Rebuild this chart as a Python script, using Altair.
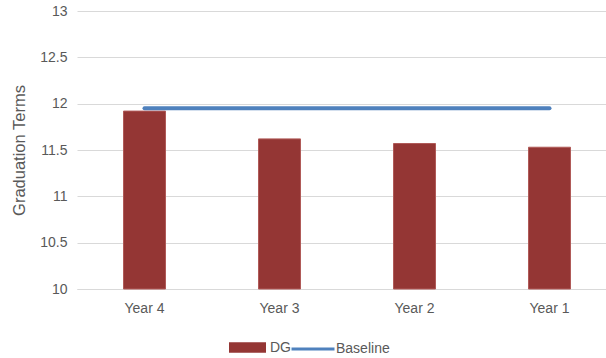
import altair as alt
import pandas as pd

years = ["Year 4", "Year 3", "Year 2", "Year 1"]
dg = [11.92, 11.62, 11.57, 11.53]
baseline = [11.95, 11.95, 11.95, 11.95]
y_ticks = [10, 10.5, 11, 11.5, 12, 12.5, 13]
y_min, y_max = 10, 13

df = pd.DataFrame({"Year": years, "DG": dg, "Baseline": baseline,
                   "s1": ["DG"] * 4, "s2": ["Baseline"] * 4})

FONT = "Liberation Sans"
GREY = "#595959"

x = alt.X("Year:N", sort=years,
          scale=alt.Scale(paddingInner=0, paddingOuter=0, range=[0, 540]),
          axis=alt.Axis(title=None, labelAngle=0, ticks=False, domain=True, grid=False,
                        domainColor="#d9d9d9", labelPadding=12,
                        labelColor=GREY, labelFont=FONT, labelFontSize=14))

yscale = alt.Scale(domain=[y_min, y_max], nice=False, zero=False)
yaxis = alt.Axis(values=y_ticks, format="~g", title="Graduation Terms",
                 grid=True, gridColor="#d9d9d9", domain=False, ticks=False,
                 labelPadding=10, labelColor=GREY, labelFont=FONT,
                 labelFontSize=14, titleColor=GREY, titleFont=FONT,
                 titleFontSize=16.5, titleFontWeight="normal",
                 titlePadding=12)

bars = alt.Chart(df).mark_bar(size=42, stroke="#b05a58", strokeWidth=1).encode(
    x=x,
    y=alt.Y("DG:Q", scale=yscale, axis=yaxis),
    y2=alt.datum(y_min),
    fill=alt.Fill("s1:N", scale=alt.Scale(domain=["DG"], range=["#943634"]),
                  legend=alt.Legend(title=None, orient="none", legendX=152, legendY=318,
                                    symbolType="M-1,-0.28H1V0.28H-1Z", symbolSize=1369,
                                    symbolStrokeWidth=0, labelFont=FONT, labelFontSize=14,
                                    labelColor=GREY, padding=0, labelOffset=4))
)

line = alt.Chart(df).mark_line(strokeWidth=4, strokeCap="round").encode(
    x=x,
    y=alt.Y("Baseline:Q", scale=yscale, axis=yaxis),
    stroke=alt.Stroke("s2:N", scale=alt.Scale(domain=["Baseline"], range=["#4F81BD"]),
                      legend=alt.Legend(title=None, orient="none", legendX=213, legendY=315,
                                        symbolType="stroke", symbolSize=1849,
                                        symbolStrokeWidth=3, labelFont=FONT,
                                        labelFontSize=14, labelColor=GREY, padding=0,
                                        labelOffset=0))
)

chart = alt.layer(bars, line).resolve_scale(fill="independent", stroke="independent").properties(
    width=529, height=278,
    background="white",
    autosize=alt.AutoSizeParams(type="none"),
    padding={"left": 77, "top": 11, "right": 0, "bottom": 69},
).configure_view(strokeWidth=0, stroke="transparent").configure_axisY(domain=False)

chart.save("out.html", embed_options={"renderer": "svg", "actions": False})
